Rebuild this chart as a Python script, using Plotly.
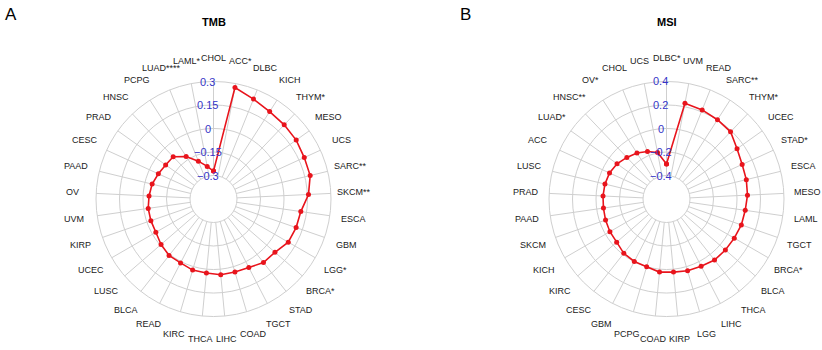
import math
import plotly.graph_objects as go

# ---------------- data ----------------
tmb_categories = ["CHOL", "ACC*", "DLBC", "KICH", "THYM*", "MESO", "UCS", "SARC**", "SKCM**",
                  "ESCA", "GBM", "LGG*", "BRCA*", "STAD", "TGCT", "COAD", "LIHC", "THCA", "KIRC",
                  "READ", "BLCA", "LUSC", "UCEC", "KIRP", "UVM", "OV", "PAAD", "CESC", "PRAD",
                  "HNSC", "PCPG", "LUAD****", "LAML*"]
tmb_values = [-0.272, 0.274, 0.237, 0.213, 0.204, 0.198, 0.187, 0.185, 0.157,
              0.113, 0.108, 0.101, 0.069, 0.066, 0.042, 0.036, 0.036, 0.025, 0.023,
              0.009, 0.009, -0.007, -0.025, -0.027, -0.029, -0.038, -0.047, -0.063, -0.075,
              -0.077, -0.127, -0.190, -0.238]
tmb_ticks = [-0.3, -0.15, 0, 0.15, 0.3]
tmb_ticktext = ["\u22120.3", "\u22120.15", "0", "0.15", "0.3"]

msi_categories = ["DLBC*", "UVM", "READ", "SARC**", "THYM*", "UCEC", "STAD*", "ESCA", "MESO",
                  "LAML", "TGCT", "BRCA*", "BLCA", "THCA", "LIHC", "LGG", "KIRP", "COAD", "PCPG",
                  "GBM", "CESC", "KIRC", "KICH", "SKCM", "PAAD", "PRAD", "LUSC", "ACC", "LUAD*",
                  "HNSC**", "OV*", "CHOL", "UCS"]
msi_values = [-0.303, 0.230, 0.217, 0.202, 0.190, 0.137, 0.108, 0.099, 0.090,
              0.077, 0.074, 0.066, 0.063, 0.061, 0.043, 0.037, 0.025, 0.025, 0.000,
              -0.002, -0.012, -0.039, -0.044, -0.051, -0.058, -0.059, -0.061, -0.067, -0.083,
              -0.111, -0.135, -0.164, -0.197]
msi_ticks = [-0.4, -0.2, 0, 0.2, 0.4]
msi_ticktext = ["\u22120.4", "\u22120.2", "0", "0.2", "0.4"]

# ---------------- layout constants ----------------
W, H = 822, 350
R = 117.5
HOLE = 0.2
FONT = "Liberation Sans, Arial, sans-serif"
RED = "#e8141c"
GRID = "#cfcfcf"
BLUE = "#3535c8"

panels = [
    dict(name="polar", cx=213.5, cy=199.0, cats=tmb_categories, vals=tmb_values,
         ticks=tmb_ticks, ticktext=tmb_ticktext, title="TMB", letter="A", lx=11, ly=15),
    dict(name="polar2", cx=666.5, cy=199.0, cats=msi_categories, vals=msi_values,
         ticks=msi_ticks, ticktext=msi_ticktext, title="MSI", letter="B", lx=465, ly=15),
]

fig = go.Figure()
annotations = []
layout_polars = {}

for p in panels:
    cats, vals, ticks = p["cats"], p["vals"], p["ticks"]
    fig.add_trace(go.Scatterpolar(
        r=vals + vals[:1], theta=cats + cats[:1], subplot=p["name"],
        mode="lines+markers",
        line=dict(color=RED, width=1.6),
        marker=dict(color=RED, size=5),
        showlegend=False, hoverinfo="skip",
    ))
    dom_x = [(p["cx"] - R) / W, (p["cx"] + R) / W]
    dom_y = [1 - (p["cy"] + R) / H, 1 - (p["cy"] - R) / H]
    layout_polars[p["name"]] = dict(
        domain=dict(x=dom_x, y=dom_y),
        hole=HOLE,
        bgcolor="white",
        radialaxis=dict(range=[ticks[0], ticks[-1]], tickvals=[ticks[0] + 1e-6] + ticks[1:],
                        showticklabels=False, ticks="", showline=False,
                        gridcolor=GRID, gridwidth=1, angle=90),
        angularaxis=dict(type="category", categoryorder="array", categoryarray=cats,
                         direction="clockwise", rotation=90, showticklabels=False,
                         ticks="", showline=True, linecolor=GRID, linewidth=1,
                         gridcolor=GRID, gridwidth=1),
    )
    n = len(cats)
    # category labels centred at 1.2 R
    for i, c in enumerate(cats):
        a = 2 * math.pi * i / n
        x = p["cx"] + 1.2 * R * math.sin(a)
        y = p["cy"] - 1.2 * R * math.cos(a)
        annotations.append(dict(x=x / W, y=1 - y / H, xref="paper", yref="paper",
                                text=c, showarrow=False, xanchor="center", yanchor="middle",
                                font=dict(family=FONT, size=9, color="#1a1a1a")))
    # radial tick labels along the top axis
    lo, hi = ticks[0], ticks[-1]
    for t, tt in zip(ticks, p["ticktext"]):
        rr = R * (HOLE + (1 - HOLE) * (t - lo) / (hi - lo))
        y = p["cy"] - rr
        annotations.append(dict(x=(p["cx"] - 6) / W, y=1 - y / H, xref="paper", yref="paper",
                                text=tt, showarrow=False, xanchor="center", yanchor="middle",
                                font=dict(family=FONT, size=11, color=BLUE)))
    annotations.append(dict(x=p["cx"] / W, y=1 - 22 / H, xref="paper", yref="paper",
                            text="<b>" + p["title"] + "</b>", showarrow=False,
                            xanchor="center", yanchor="middle",
                            font=dict(family=FONT, size=11, color="black")))
    annotations.append(dict(x=p["lx"] / W, y=1 - p["ly"] / H, xref="paper", yref="paper",
                            text=p["letter"], showarrow=False,
                            xanchor="center", yanchor="middle",
                            font=dict(family=FONT, size=17, color="black")))

fig.update_layout(
    width=W, height=H,
    margin=dict(l=0, r=0, t=0, b=0),
    paper_bgcolor="white", plot_bgcolor="white",
    showlegend=False,
    annotations=annotations,
    **layout_polars,
)

fig.write_html("out.html",
               config={"displayModeBar": False, "staticPlot": True},
               post_script="document.body.style.margin='0';document.body.style.overflow='hidden';")
